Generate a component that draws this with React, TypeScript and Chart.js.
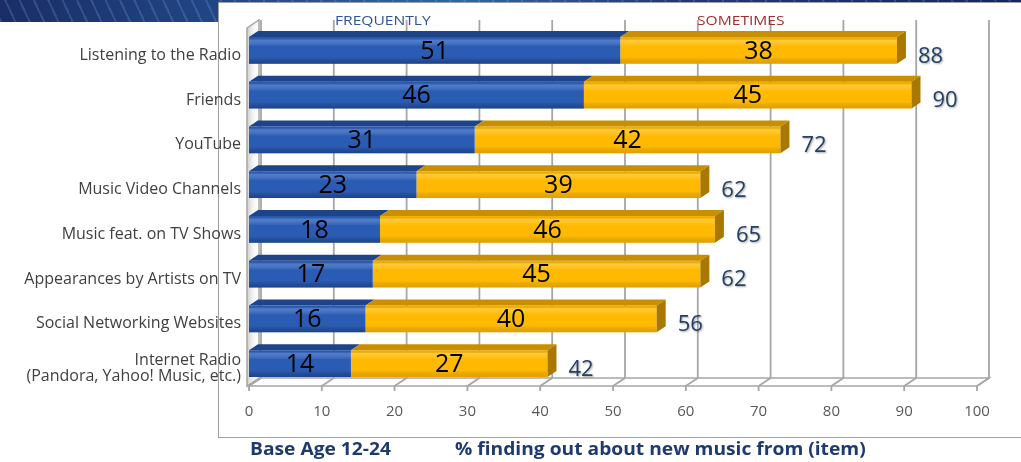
import React, { useEffect, useRef } from 'react';
import { Chart, registerables } from 'chart.js';

Chart.register(...registerables);

const categories: (string | string[])[] = [
  'Listening to the Radio',
  'Friends',
  'YouTube',
  'Music Video Channels',
  'Music feat. on TV Shows',
  'Appearances by Artists on TV',
  'Social Networking Websites',
  ['Internet Radio', '(Pandora, Yahoo! Music, etc.)'],
];
const seriesNames = ['FREQUENTLY', 'SOMETIMES'];
const frequently = [51, 46, 31, 23, 18, 17, 16, 14];
const sometimes = [38, 45, 42, 39, 46, 45, 40, 27];
const totals = [88, 90, 72, 62, 65, 62, 56, 42];
const xMin = 0;
const xMax = 100;
const xStep = 10;
const footerLeft = 'Base Age 12-24';
const footerRight = '% finding out about new music from (item)';

const FONT = '"Open Sans", "DejaVu Sans", sans-serif';

const WALL = { dx: 12, dy: -8 };
const BAR = { dx: 9, dy: -6 };
const faces = [
  { top: '#1d4489', side: '#173a78', hi: 'rgba(140,180,255,0.35)', lo: 'rgba(0,20,70,0.35)' },
  { top: '#c98f00', side: '#a97800', hi: 'rgba(255,235,150,0.35)', lo: 'rgba(150,90,0,0.25)' },
];

const threeD = {
  id: 'threeD',
  beforeDatasetsDraw(chart: any) {
    const { ctx, chartArea } = chart;
    const xs = chart.scales.x;
    const L = chartArea.left;
    const R = chartArea.right;
    const T = chartArea.top;
    const B = chartArea.bottom;
    ctx.save();
    // left wall
    ctx.beginPath();
    ctx.moveTo(L - 2, T);
    ctx.lineTo(L - 2 + WALL.dx, T + WALL.dy);
    ctx.lineTo(L - 2 + WALL.dx, B + WALL.dy);
    ctx.lineTo(L - 2, B);
    ctx.closePath();
    const g = ctx.createLinearGradient(L - 2, 0, L - 2 + WALL.dx, 0);
    g.addColorStop(0, '#cfcfcf');
    g.addColorStop(0.5, '#f4f4f4');
    g.addColorStop(1, '#ffffff');
    ctx.fillStyle = g;
    ctx.fill();
    ctx.strokeStyle = '#a6a6a6';
    ctx.lineWidth = 1.5;
    ctx.stroke();
    // floor
    ctx.beginPath();
    ctx.moveTo(L, B);
    ctx.lineTo(R, B);
    ctx.lineTo(R + WALL.dx, B + WALL.dy);
    ctx.lineTo(L + WALL.dx, B + WALL.dy);
    ctx.closePath();
    ctx.fillStyle = '#ffffff';
    ctx.fill();
    ctx.stroke();
    // gridlines
    ctx.strokeStyle = '#a6a6a6';
    ctx.lineWidth = 1.8;
    for (let v = xMin; v <= xMax; v += xStep) {
      const x = xs.getPixelForValue(v);
      ctx.beginPath();
      ctx.moveTo(x + WALL.dx, T + WALL.dy);
      ctx.lineTo(x + WALL.dx, B + WALL.dy);
      ctx.lineTo(x, B);
      ctx.lineTo(x, B + 5);
      ctx.stroke();
    }
    ctx.restore();
  },
  afterDatasetsDraw(chart: any) {
    const { ctx } = chart;
    const n = chart.data.datasets.length;
    ctx.save();
    for (let d = 0; d < n; d++) {
      const meta = chart.getDatasetMeta(d);
      const f = faces[d];
      meta.data.forEach((el: any, i: number) => {
        const p = el.getProps(['x', 'y', 'base', 'height'], true);
        const top = p.y - p.height / 2;
        const bot = p.y + p.height / 2;
        const left = Math.min(p.base, p.x);
        const right = Math.max(p.base, p.x);
        // front shading
        const gr = ctx.createLinearGradient(0, top, 0, bot);
        gr.addColorStop(0, 'rgba(0,0,0,0)');
        gr.addColorStop(0.12, f.hi);
        gr.addColorStop(0.35, 'rgba(255,255,255,0)');
        gr.addColorStop(0.75, 'rgba(0,0,0,0)');
        gr.addColorStop(1, f.lo);
        ctx.fillStyle = gr;
        ctx.fillRect(left, top, right - left, bot - top);
        // top face
        ctx.beginPath();
        ctx.moveTo(left, top);
        ctx.lineTo(right, top);
        ctx.lineTo(right + BAR.dx, top + BAR.dy);
        ctx.lineTo(left + BAR.dx, top + BAR.dy);
        ctx.closePath();
        ctx.fillStyle = f.top;
        ctx.fill();
        if (d === n - 1) {
          ctx.beginPath();
          ctx.moveTo(right, top);
          ctx.lineTo(right + BAR.dx, top + BAR.dy);
          ctx.lineTo(right + BAR.dx, bot + BAR.dy);
          ctx.lineTo(right, bot);
          ctx.closePath();
          ctx.fillStyle = f.side;
          ctx.fill();
        }
        // inside value
        const val = chart.data.datasets[d].data[i];
        ctx.fillStyle = '#000000';
        ctx.font = `25px ${FONT}`;
        ctx.textAlign = 'center';
        ctx.textBaseline = 'middle';
        ctx.fillText(String(val), (left + right) / 2, p.y + 1);
        if (d === n - 1) {
          ctx.save();
          ctx.shadowColor = 'rgba(0,0,0,0.35)';
          ctx.shadowOffsetX = 1;
          ctx.shadowOffsetY = 1;
          ctx.shadowBlur = 2;
          ctx.fillStyle = '#243f66';
          ctx.font = `22px ${FONT}`;
          ctx.textAlign = 'left';
          ctx.fillText(String(totals[i]), right + 21, p.y + 6);
          ctx.restore();
        }
      });
    }
    ctx.restore();
  },
};

export default function App() {
  const ref = useRef<HTMLCanvasElement | null>(null);
  useEffect(() => {
    if (!ref.current) return;
    const chart = new Chart(ref.current, {
      type: 'bar',
      data: {
        labels: categories as any,
        datasets: [
          { label: seriesNames[0], data: frequently, backgroundColor: '#2b5cb4', borderWidth: 0 },
          { label: seriesNames[1], data: sometimes, backgroundColor: '#ffb900', borderWidth: 0 },
        ],
      },
      options: {
        indexAxis: 'y',
        responsive: false,
        animation: false,
        devicePixelRatio: 1,
        layout: { padding: { top: 28, right: 44, left: 0, bottom: 0 } },
        plugins: { legend: { display: false }, tooltip: { enabled: false } },
        datasets: { bar: { categoryPercentage: 1, barPercentage: 0.6 } },
        scales: {
          x: {
            stacked: true,
            min: xMin,
            max: xMax,
            grid: { display: false, drawTicks: false },
            border: { display: false },
            ticks: { stepSize: xStep, padding: 17, color: '#595959', font: { family: FONT, size: 15 } },
            afterFit: (s: any) => { s.height = 76; },
          },
          y: {
            stacked: true,
            grid: { display: false, drawTicks: false },
            border: { display: false },
            ticks: { padding: 8, labelOffset: 5, color: '#404040', font: { family: FONT, size: 16, lineHeight: 1.0 } },
            afterFit: (s: any) => { s.width = 249; },
          },
        },
      },
      plugins: [threeD],
    });
    return () => chart.destroy();
  }, []);

  const stretch = (sx: number): React.CSSProperties => ({ transform: `scaleX(${sx})`, transformOrigin: 'left center' });

  return (
    <div style={{ position: 'absolute', left: 0, top: 0, width: 1021, height: 462, background: '#ffffff', overflow: 'hidden', fontFamily: FONT }}>
      <div style={{
        position: 'absolute', left: 0, top: 0, width: 1021, height: 22,
        background: 'repeating-linear-gradient(65deg, rgba(130,180,240,0.22) 0px, rgba(130,180,240,0.22) 2px, rgba(0,0,0,0) 2px, rgba(0,0,0,0) 13px), linear-gradient(90deg, #1a2d66 0%, #234a8a 25%, #2f66a8 45%, #1f3b7a 65%, #16265a 100%)',
      }} />
      <div style={{ position: 'absolute', left: 218, top: 2, width: 900, height: 434, background: '#ffffff', border: '1px solid #a0a0a0' }} />
      <canvas ref={ref} width={1021} height={462} style={{ position: 'absolute', left: 0, top: 0, width: 1021, height: 462 }} />
      <div style={{ position: 'absolute', left: 335, top: 12, fontSize: 13, lineHeight: '16px', color: '#2f5597', whiteSpace: 'nowrap', ...stretch(1.2) }}>{seriesNames[0]}</div>
      <div style={{ position: 'absolute', left: 697, top: 12, fontSize: 13, lineHeight: '16px', color: '#a0302d', whiteSpace: 'nowrap', ...stretch(1.2) }}>{seriesNames[1]}</div>
      <div style={{ position: 'absolute', left: 250, top: 439, fontSize: 17, fontWeight: 700, lineHeight: '20px', color: '#1f3a6e', whiteSpace: 'nowrap', ...stretch(1.13) }}>{footerLeft}</div>
      <div style={{ position: 'absolute', left: 455, top: 439, fontSize: 17, fontWeight: 700, lineHeight: '20px', color: '#1f3a6e', whiteSpace: 'nowrap', ...stretch(1.13) }}>{footerRight}</div>
    </div>
  );
}
